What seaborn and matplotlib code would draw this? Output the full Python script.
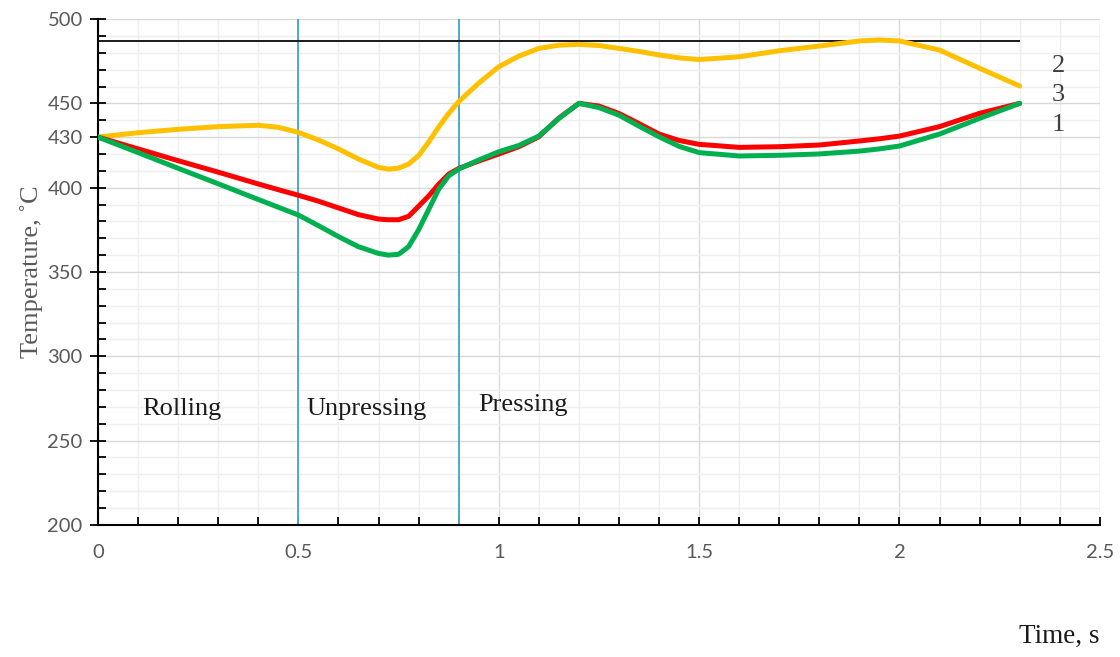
import numpy as np
import matplotlib
matplotlib.use("Agg")
import matplotlib.pyplot as plt
import seaborn as sns
from matplotlib.ticker import MultipleLocator

# Data
time = [0, 0.1, 0.2, 0.3, 0.4, 0.45, 0.5, 0.55, 0.6, 0.65, 0.7, 0.725, 0.75, 0.775,
        0.8, 0.825, 0.85, 0.875, 0.9, 0.95, 1.0, 1.05, 1.1, 1.15, 1.2, 1.25, 1.3,
        1.35, 1.4, 1.45, 1.5, 1.6, 1.7, 1.8, 1.9, 1.95, 2.0, 2.1, 2.2, 2.3]

# curve 2 (yellow)
temp_2 = [430, 432.6, 434.6, 436.2, 437, 435.8, 432.8, 428.3, 423, 417, 412, 411,
          411.6, 414, 419, 427, 436, 444, 451, 462, 471.7, 478, 482.6, 484.5, 485,
          484.3, 482.6, 480.8, 478.7, 477, 476, 477.6, 481.2, 484, 487, 487.6, 487,
          481.6, 470.8, 460.3]
# curve 3 (red)
temp_3 = [430, 423, 416, 409.2, 402.2, 398.8, 395.5, 392, 388, 384, 381.4, 381,
          381, 383, 389, 395, 402, 408, 411.4, 415.8, 420, 424.3, 430.2, 441.3, 450,
          448.4, 444, 438, 431.8, 428, 425.7, 423.9, 424.3, 425.3, 427.7, 429, 430.6,
          436.2, 444.1, 450]
# curve 1 (green)
temp_1 = [430, 420.8, 411.5, 402.3, 393, 388.4, 383.8, 377.5, 371, 365, 361, 360,
          360.5, 365, 375, 387, 399, 407, 411, 416.4, 421.3, 425, 430.6, 441, 450,
          447.5, 443, 436.5, 430.2, 424.5, 420.8, 418.8, 419.2, 420, 421.7, 423,
          424.7, 431.8, 441.1, 450]

limit_temp = 487
limit_span = [0, 2.3]
phase_bounds = [0.5, 0.9]
phase_names = ["Rolling", "Unpressing", "Pressing"]
phase_label_x = [0.11, 0.52, 0.95]
phase_label_y = [269, 269, 271]
curve_names = ["2", "3", "1"]
curve_label_y = [472, 455, 437]

y_ticks = [200, 250, 300, 350, 400, 430, 450, 500]
x_ticks = [0, 0.5, 1, 1.5, 2, 2.5]

sns.set_style("white")
plt.rcParams["font.family"] = ["Lato", "DejaVu Sans"]

fig = plt.figure(figsize=(11.2, 6.57), dpi=100)
ax = fig.add_axes([0.0875, 0.201, 0.8945, 0.770])

ax.set_xlim(0, 2.5)
ax.set_ylim(200, 500)
ax.xaxis.set_minor_locator(MultipleLocator(0.1))
ax.yaxis.set_minor_locator(MultipleLocator(10))
ax.set_xticks(x_ticks)
ax.set_xticklabels(["0", "0.5", "1", "1.5", "2", "2.5"])
ax.set_yticks(y_ticks)
ax.grid(True, which="minor", color="#efefef", lw=1.0)
ax.grid(True, which="major", color="#d9d9d9", lw=1.0)
ax.set_axisbelow(True)

for s in ["top", "right"]:
    ax.spines[s].set_visible(False)
for s in ["left", "bottom"]:
    ax.spines[s].set_color("black")
    ax.spines[s].set_linewidth(1.5)

ax.tick_params(axis="y", which="major", direction="inout", length=12, width=1.3,
               color="black", labelsize=14.5, labelcolor="#595959", pad=5, left=True)
ax.tick_params(axis="y", which="minor", direction="in", length=6, width=1.3,
               color="black", left=True)
ax.tick_params(axis="x", which="major", direction="in", length=6, width=1.3,
               color="black", labelsize=14.5, labelcolor="#595959", pad=14, bottom=True)
ax.tick_params(axis="x", which="minor", direction="in", length=6, width=1.3,
               color="black", bottom=True)
ax.yaxis.get_major_ticks()[y_ticks.index(430)].tick1line.set_color("#a6a6a6")

# phase boundaries and limit line
for b in phase_bounds:
    ax.axvline(b, color="#4BACC6", lw=1.4, zorder=2)
ax.hlines(limit_temp, limit_span[0], limit_span[1], color="#1a1a1a", lw=1.4, zorder=2)

sns.lineplot(x=time, y=temp_2, ax=ax, color="#FFC000", lw=3.6, zorder=3,
             solid_joinstyle="round", solid_capstyle="round")
sns.lineplot(x=time, y=temp_3, ax=ax, color="#FF0000", lw=3.6, zorder=4,
             solid_joinstyle="round", solid_capstyle="round")
sns.lineplot(x=time, y=temp_1, ax=ax, color="#00B050", lw=3.6, zorder=5,
             solid_joinstyle="round", solid_capstyle="round")

serif = ["Liberation Serif", "DejaVu Serif"]
for name, xx, yy in zip(phase_names, phase_label_x, phase_label_y):
    ax.text(xx, yy, name, family=serif, fontsize=19, color="#1a1a1a", va="center")
for name, yy in zip(curve_names, curve_label_y):
    ax.text(2.38, yy, name, family=serif, fontsize=19, color="#404040", va="center")

ax.set_xlabel("")
ax.set_ylabel("Temperature, ˚C", family=serif, fontsize=19, color="#595959", labelpad=3)
fig.text(0.982, 0.022, "Time, s", family=serif, fontsize=19.5, color="#1a1a1a", ha="right")

fig.savefig("out.png", dpi=100)
